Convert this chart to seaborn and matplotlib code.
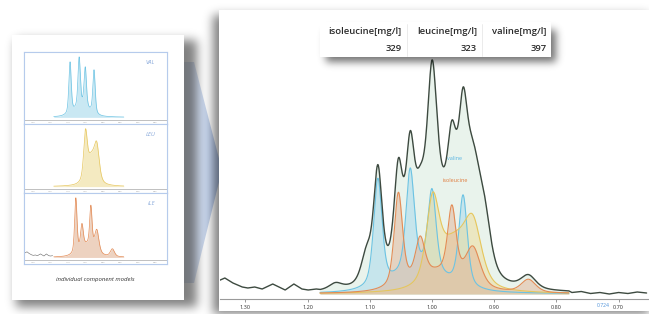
import numpy as np
import matplotlib.pyplot as plt
import seaborn as sns
from matplotlib.patches import Rectangle, Polygon


# peak lists: position (ppm), height (px above baseline), half width (ppm)
valine_ppm = [1.087, 1.035, 1.000, 0.950, 1.020]
valine_height = [107, 102, 82, 91, 22]
valine_width = [0.008, 0.008, 0.008, 0.008, 0.05]

isoleucine_ppm = [1.054, 1.019, 0.968, 0.934, 0.845, 0.990]
isoleucine_height = [93, 39, 68, 37, 13, 20]
isoleucine_width = [0.008, 0.009, 0.008, 0.014, 0.014, 0.05]

leucine_ppm = [0.999, 0.934, 0.965]
leucine_height = [77, 52, 50]
leucine_width = [0.012, 0.016, 0.032]

# what the measured spectrum has on top of the three models
residual_ppm = [1.105, 1.155, 0.915]
residual_height = [28, 6, 40]
residual_width = [0.010, 0.012, 0.012]

# baseline noise of the measured spectrum outside the model range
noise_left_ppm = [1.344, 1.333, 1.320, 1.305, 1.296, 1.285, 1.273, 1.256, 1.236, 1.222, 1.209, 1.199, 1.186]
noise_left = [13, 16, 11, 7, 6, 7, 5, 10, 4, 10, 5, 4, 5]
noise_right_ppm = [0.775, 0.76, 0.745, 0.73, 0.715, 0.70, 0.685, 0.67, 0.655]
noise_right = [1.5, 2.5, 0.5, 1.5, 0.0, 1.5, 0.5, 2.0, 1.0]

tick_ppm = [1.30, 1.20, 1.10, 1.00, 0.90, 0.80, 0.70]
tick_labels = ['1.30', '1.20', '1.10', '1.00', '0.90', '0.80', '0.70']
marker_ppm = 0.724

table_headers = ['isoleucine[mg/l]', 'leucine[mg/l]', 'valine[mg/l]']
table_values = ['329', '323', '397']

inset_names = ['VAL', 'LEU', 'ILE']
caption = 'individual component models'

W, H = 649, 314


def peak_sum(x, centers, heights, widths):
    # half gaussian, half lorentzian line shape
    y = np.zeros_like(x)
    for c, h, w in zip(centers, heights, widths):
        d2 = (x - c) ** 2
        y += h * (0.5 * np.exp(-np.log(2) * d2 / w ** 2) + 0.5 * w ** 2 / (w ** 2 + d2))
    return y


def px_rect(x0, y0, x1, y1):
    return [x0 / W, 1 - y1 / H, (x1 - x0) / W, (y1 - y0) / H]


def blur(a, s):
    k = np.exp(-0.5 * (np.arange(-3 * s, 3 * s + 1) / s) ** 2)
    k /= k.sum()
    a = np.apply_along_axis(lambda r: np.convolve(r, k, mode='same'), 0, a)
    a = np.apply_along_axis(lambda r: np.convolve(r, k, mode='same'), 1, a)
    return a


def shadow_image(rects, sigma, strength):
    m = np.zeros((H, W))
    for x0, y0, x1, y1 in rects:
        m[max(y0, 0):min(y1, H), max(x0, 0):min(x1, W)] = 1
    m = blur(m, sigma)
    img = np.zeros((H, W, 4))
    img[..., 3] = m * strength
    return img


sns.set_theme(style='white')
plt.rcParams['font.family'] = ['Open Sans', 'DejaVu Sans']

grid = np.linspace(1.18, 0.78, 900)
val_y = peak_sum(grid, valine_ppm, valine_height, valine_width)
ile_y = peak_sum(grid, isoleucine_ppm, isoleucine_height, isoleucine_width)
leu_y = peak_sum(grid, leucine_ppm, leucine_height, leucine_width)
total_y = val_y + ile_y + leu_y + peak_sum(grid, residual_ppm, residual_height, residual_width)

meas_x = np.concatenate([noise_left_ppm, grid, noise_right_ppm])
meas_y = np.concatenate([noise_left, total_y, noise_right])

colors = {
    'valine': ('#6cc3e3', '#a5d9ec'),
    'isoleucine': ('#e38b55', '#e2b497'),
    'leucine': ('#e6c65c', '#eedc98'),
}

fig = plt.figure(figsize=(6.49, 3.14), dpi=100)
fig.patch.set_facecolor('white')

# background layer: chevron, shadows, card and panel
ax_bg = fig.add_axes([0, 0, 1, 1], zorder=0)
ax_bg.set_xlim(0, W)
ax_bg.set_ylim(H, 0)
ax_bg.axis('off')

chev = Polygon([(176, 62), (194, 62), (222, 170), (194, 283), (176, 283)], closed=True,
               facecolor='none', edgecolor='none')
ax_bg.add_patch(chev)
grad = np.linspace(0, 1, 256)[None, :]
cmap = sns.blend_palette(['#f4f6fa', '#b2c6e8'], as_cmap=True)
im = ax_bg.imshow(grad, extent=(176, 222, 283, 62), cmap=cmap, aspect='auto', zorder=1)
im.set_clip_path(chev)

ax_bg.imshow(shadow_image([(16, 40, 197, 307), (213, 15, 660, 320)], 5, 0.5),
             extent=(0, W, H, 0), aspect='auto', zorder=2)
ax_bg.add_patch(Rectangle((12, 35), 172, 265, facecolor='white', edgecolor='none', zorder=3))
ax_bg.add_patch(Rectangle((219, 10), 440, 301, facecolor='white', edgecolor='none', zorder=3))
ax_bg.add_patch(Rectangle((24, 52), 143, 212, facecolor='none', edgecolor='#b6cbec', lw=0.8, zorder=4))
ax_bg.text(95, 280, caption, fontsize=4.3, style='italic', color='#333333',
           ha='center', va='center', zorder=4)

# main spectrum
ax = fig.add_axes(px_rect(220, 12, 649, 299), zorder=1)
ax.set_facecolor('none')
ax.fill_between(grid, 0, total_y, color='#e7f2ea', alpha=0.9, lw=0)
for name, y in [('valine', val_y), ('leucine', leu_y), ('isoleucine', ile_y)]:
    line_c, fill_c = colors[name]
    ax.fill_between(grid, 0, y, color=fill_c, alpha=0.5, lw=0)
    sns.lineplot(x=grid, y=y, ax=ax, color=line_c, lw=0.8, sort=False, estimator=None)
sns.lineplot(x=meas_x, y=meas_y, ax=ax, color='#3d4a40', lw=1.0, sort=False, estimator=None)

ax.text(0.963, 136, 'valine', fontsize=4, color='#58b4e2', ha='center', va='center')
ax.text(0.963, 113, 'isoleucine', fontsize=4, color='#e07b3c', ha='center', va='center')
ax.text(marker_ppm, -9, f'{marker_ppm:.3f}', fontsize=3.6, color='#4a90d9', ha='center', va='top')

ax.set_xlim(1.3408, 0.6511)
ax.set_ylim(-5, 282)
ax.set_xticks(tick_ppm, tick_labels)
ax.set_yticks([])
ax.tick_params(axis='x', labelsize=4, length=2.5, width=0.6, color='#888888',
               labelcolor='#333333', pad=1.5, bottom=True)
for s in ['top', 'left', 'right']:
    ax.spines[s].set_visible(False)
ax.spines['bottom'].set_color('#9a9a9a')
ax.spines['bottom'].set_linewidth(0.8)
ax.set_xlabel('')
ax.set_ylabel('')

# inset component models
inset_rows = [(52, 124), (124, 193), (193, 264)]
inset_curves = [('valine', val_y), ('leucine', leu_y), ('isoleucine', ile_y)]
for (y0, y1), label, (name, y) in zip(inset_rows, inset_names, inset_curves):
    ia = fig.add_axes(px_rect(24, y0, 167, y1), zorder=1)
    ia.set_facecolor('white')
    peak = y.max()
    line_c, fill_c = colors[name]
    ia.fill_between(grid, 0, y, color=fill_c, alpha=0.6, lw=0)
    sns.lineplot(x=grid, y=y, ax=ia, color=line_c, lw=0.5, sort=False, estimator=None)
    if name == 'isoleucine':
        sns.lineplot(x=noise_left_ppm, y=np.array(noise_left) * 0.6, ax=ia, color='#666666',
                     lw=0.4, sort=False, estimator=None)
    ia.axhline(-0.04 * peak, color='#b5b5b5', lw=0.6)
    for t, tl in zip(tick_ppm + [0.6], tick_labels + ['0.60']):
        ia.text(t, -0.07 * peak, tl, fontsize=1.6, color='#999999', ha='center', va='top')
    ia.text(0.60, 0.9 * peak, label, fontsize=4.2, style='italic', color='#86a7da',
            ha='right', va='center')
    ia.set_xlim(1.35, 0.533)
    ia.set_ylim(-0.11 * peak, 1.08 * peak)
    ia.set_xticks([])
    ia.set_yticks([])
    for s in ia.spines.values():
        s.set_color('#b6cbec')
        s.set_linewidth(0.8)

# results table on top
ax_top = fig.add_axes([0, 0, 1, 1], zorder=5)
ax_top.set_xlim(0, W)
ax_top.set_ylim(H, 0)
ax_top.axis('off')
ax_top.imshow(shadow_image([(326, 30, 556, 62)], 4, 0.55), extent=(0, W, H, 0), aspect='auto')
ax_top.add_patch(Rectangle((320, 22), 231, 35, facecolor='white', edgecolor='none'))
for xs in [407, 482]:
    ax_top.plot([xs, xs], [24, 56], color='#e8e8e8', lw=0.6)
for xr, head, val in zip([402, 477, 547], table_headers, table_values):
    ax_top.text(xr, 32, head, fontsize=6.8, fontweight='semibold', color='#2a2a2a',
                ha='right', va='center')
    ax_top.text(xr, 48.5, val, fontsize=6.8, fontweight='semibold', color='#2a2a2a',
                ha='right', va='center')
ax_top.set_xlim(0, W)
ax_top.set_ylim(H, 0)

fig.savefig('out.png', dpi=100)
